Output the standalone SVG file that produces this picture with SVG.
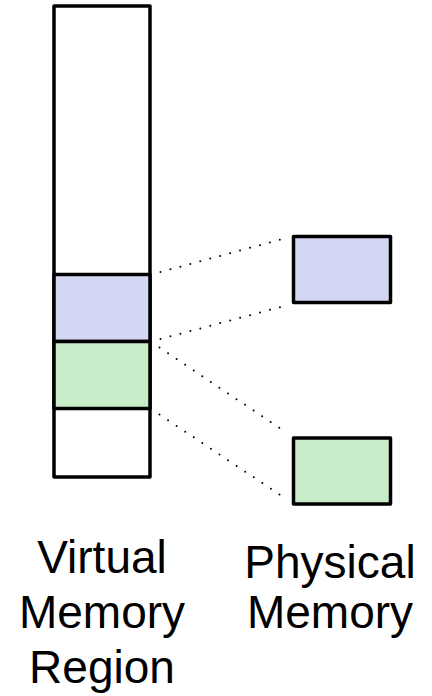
<svg xmlns="http://www.w3.org/2000/svg" width="432" height="696" viewBox="0 0 432 696">
<style>
.box{stroke:#000;stroke-width:3.5;stroke-linejoin:round}
.blue{fill:#d4d7f4}
.green{fill:#c8ecc8}
.dot{stroke:#000;stroke-width:2;stroke-linecap:round;stroke-dasharray:0 10.3;fill:none}
text{font-family:"Liberation Sans",Arial,sans-serif;font-size:46px;text-anchor:middle;fill:#000}
</style>
<rect width="432" height="696" fill="#fff"/>
<g id="virtual-region">
<rect class="box" x="54" y="6" width="96" height="471" fill="#fff"/>
</g>
<g id="virtual-blue">
<rect class="box blue" x="54" y="274.5" width="96" height="67"/>
</g>
<g id="virtual-green">
<rect class="box green" x="54" y="341.5" width="96" height="67"/>
</g>
<g id="physical-blue">
<rect class="box blue" x="293.5" y="236.5" width="97" height="66"/>
</g>
<g id="physical-green">
<rect class="box green" x="293.5" y="438" width="97" height="66"/>
</g>
<g id="connectors">
<path class="dot" d="M160.5 272 L284.5 238.5"/>
<path class="dot" d="M160.5 339 L284.5 306"/>
<path class="dot" d="M159.5 347.5 L284 431"/>
<path class="dot" d="M159.5 414.5 L284 497.5"/>
</g>
<g id="label-virtual">
<text x="102" y="573">Virtual</text>
<text x="102" y="628">Memory</text>
<text x="102" y="683">Region</text>
</g>
<g id="label-physical">
<text x="330" y="578">Physical</text>
<text x="330" y="628">Memory</text>
</g>
</svg>
